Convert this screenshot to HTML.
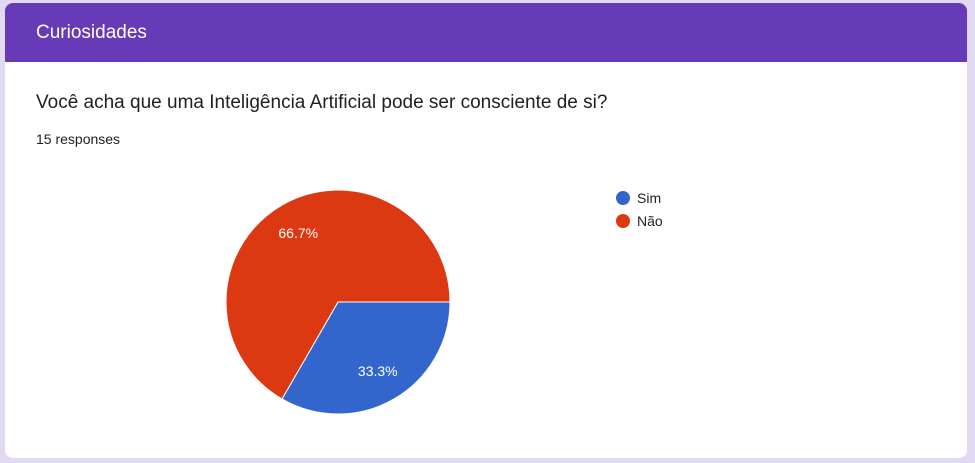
<!DOCTYPE html>
<html><head><meta charset="utf-8"><style>
body{margin:0;width:975px;height:463px;background:#e1d9f1;font-family:"Liberation Sans",sans-serif;overflow:hidden;position:relative}
.card{position:absolute;left:5px;top:3px;width:962px;height:455px;background:#fff;border-radius:8px;overflow:hidden}
.hdr{height:59px;background:#673ab7;color:#fff;font-size:19px;line-height:59px;padding-left:31px}
.q{position:absolute;left:31px;top:89px;font-size:19px;color:#202124}
.r{position:absolute;left:31px;top:128px;font-size:14px;color:#202124}
svg{position:absolute;left:0;top:0}
</style></head><body>
<div class="card">
<div class="hdr">Curiosidades</div>
<div class="q">Você acha que uma Inteligência Artificial pode ser consciente de si?</div>
<div class="r">15 responses</div>
</div>
<svg id="c" width="975" height="463"></svg>
<script>
const labels=["Sim","Não"];
const values=[5,10];
const colors=["#3366cc","#dc3912"];
const svg=document.getElementById('c');const NS="http://www.w3.org/2000/svg";
const cx=338,cy=302,R=112;
const tot=values.reduce((a,b)=>a+b,0);
let a0=0;
values.forEach((v,i)=>{
  const a1=a0+v/tot*2*Math.PI;
  const p=document.createElementNS(NS,'path');
  const x0=cx+R*Math.cos(a0),y0=cy+R*Math.sin(a0),x1=cx+R*Math.cos(a1),y1=cy+R*Math.sin(a1);
  p.setAttribute('d',`M${cx},${cy}L${x0},${y0}A${R},${R} 0 ${a1-a0>Math.PI?1:0} 1 ${x1},${y1}Z`);
  p.setAttribute('fill',colors[i]);p.setAttribute('stroke','#fff');p.setAttribute('stroke-width','1');
  
  
  svg.appendChild(p);
  const m=(a0+a1)/2;
  const t=document.createElementNS(NS,'text');
  t.setAttribute('x',cx+R*0.71*Math.cos(m));t.setAttribute('y',cy+R*0.71*Math.sin(m)+5);
  t.setAttribute('text-anchor','middle');t.setAttribute('fill','#fff');t.setAttribute('font-size','14');
  t.textContent=(v/tot*100).toFixed(1)+'%';
  
  
  svg.appendChild(t);
  const c=document.createElementNS(NS,'circle');
  c.setAttribute('cx',623);c.setAttribute('cy',198+i*23);c.setAttribute('r',7);c.setAttribute('fill',colors[i]);
  
  
  svg.appendChild(c);
  const l=document.createElementNS(NS,'text');
  l.setAttribute('x',637);l.setAttribute('y',203+i*23);l.setAttribute('font-size','14');l.setAttribute('fill','#222');
  l.textContent=labels[i];
  
  
  svg.appendChild(l);
  a0=a1;
});
</script>
</body></html>
